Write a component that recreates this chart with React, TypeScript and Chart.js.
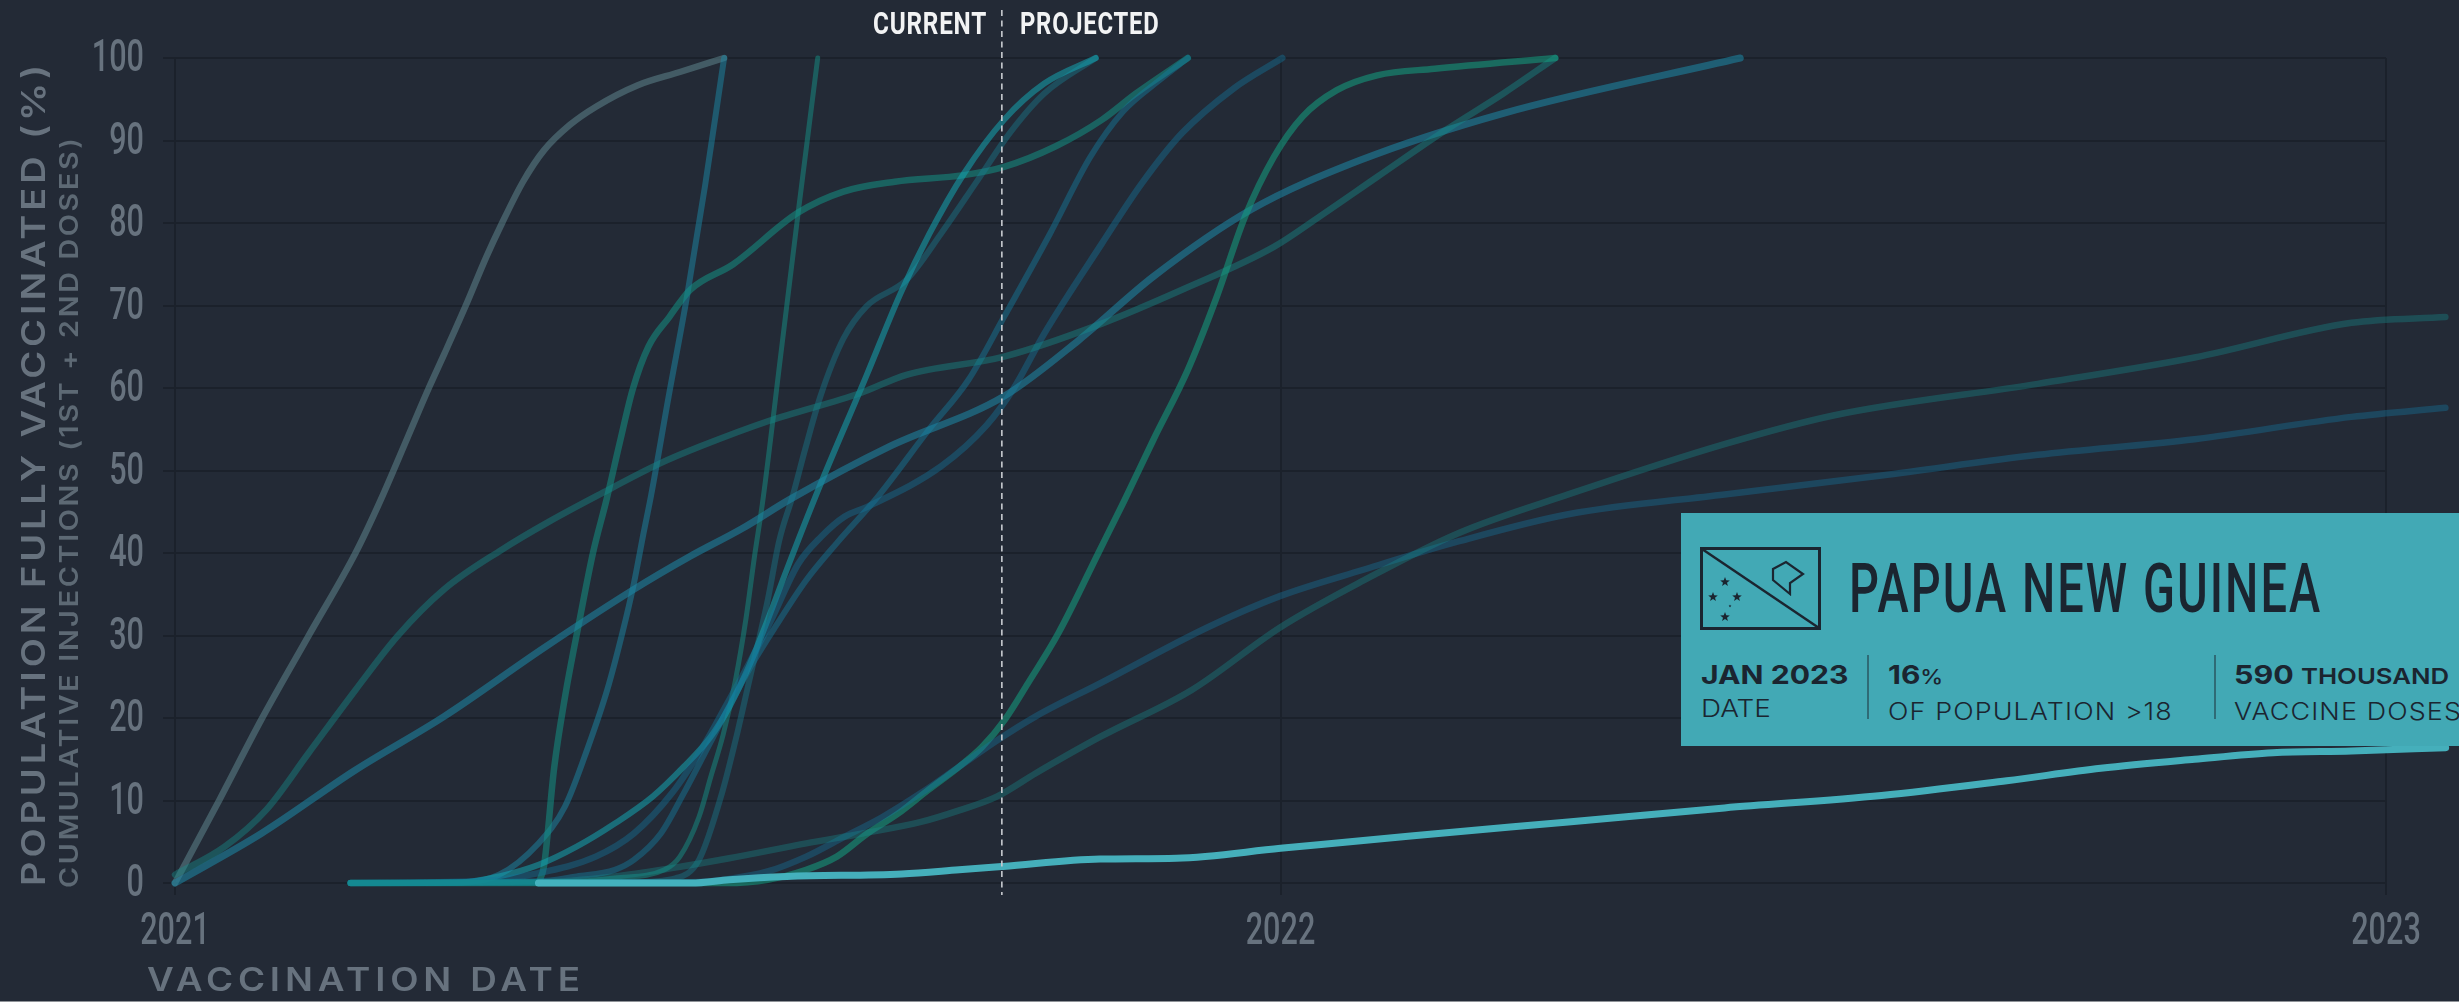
import React, { useEffect, useRef } from "react";
import { Chart, registerables } from "chart.js";

Chart.register(...registerables);

// Each row: [days since 1 Jan 2021, % of population]
const greyFast = [[0,0],[14.7,10.1],[28.5,19.8],[44,29.9],[59.6,40],[68,46.5],[76.9,54.1],[83.8,60],[89,64.2],[95.9,69.9],[102.8,75.9],[108,80],[114.9,85],[121.8,88.8],[130.4,91.9],[139,94.1],[152.8,96.7],[166.7,98.3],[181.3,100]];
const blueSteep = [[58,0],[95,0.1],[107,1],[120,4.8],[128.8,9.3],[136.4,16.5],[142.7,23.4],[147.7,30.3],[151.5,36.3],[154.7,42.4],[157.2,47],[163,59],[169,71],[175,84.5],[181.3,100]];
const tealPlateau = [[120,0],[121.8,2],[125.2,14],[128.6,22.2],[133.8,32.3],[138,40],[142.5,46.5],[146.8,53.3],[151.1,59.8],[156.3,65],[163.2,68.6],[170.1,71.9],[184.3,75],[205.5,81.2],[220.7,83.8],[237.7,85],[260.5,85.8],[273.7,86.8],[290.8,89.3],[306,92.5],[317.3,95.7],[334.4,100]];
const tealThin = [[58,0],[132.6,0.2],[145.2,0.6],[161.6,1.6],[166.7,3.2],[173,8],[177,13],[181,18],[185,24.5],[188.5,32],[191.3,39.5],[194.1,46.4],[200,64],[206,82],[212.2,100]];
const dimBump = [[58,0],[150,0.1],[165.4,0.6],[173,2.8],[180.6,10.9],[185.6,18.1],[189.4,24.2],[195.7,34.3],[199.5,41.5],[204,47],[208,52.5],[213.1,59],[220.7,66],[228.3,69.9],[241.5,73.1],[252.9,78.7],[264.3,84.8],[275.6,90.9],[287,95.7],[304,100]];
const brightMain = [[58,0],[95,0.1],[107,0.8],[120,2.2],[132.6,4.4],[145.2,7.2],[157.8,10.5],[168,14.1],[176.8,17.7],[183.1,21.4],[189.4,26.2],[195.7,31.9],[202,38],[212.2,47.5],[228.3,61.5],[239.6,71.5],[249.1,78.7],[260.5,86],[273.7,92.5],[287,96.9],[304,100]];
const blueLineA = [[58,0],[120,0.2],[132.6,0.8],[145.2,1.6],[151.5,2.8],[160.4,6],[168,10.9],[174.3,15.3],[181.8,20.6],[189.4,25.8],[198.3,31.1],[208.4,36.7],[218.5,41.2],[232,46.8],[249,55],[262,61],[273.7,68.6],[288.9,78.7],[302.2,88],[313,93.5],[325,97.3],[334.4,100]];
const blueLineB = [[58,0],[100,0.2],[120,1.2],[138.9,3.2],[151.5,6],[164.1,10.9],[174.3,16.5],[181.8,21.4],[189.4,26.5],[197,32],[205.8,38.7],[213.4,42],[221,44.4],[228.6,45.6],[252.9,50.5],[268,55.5],[277,60],[287,66.6],[306,77.5],[319.2,84.8],[332.5,90.9],[349.5,96.3],[365.6,100]];
const blueLong = [[0,0],[28.5,6],[59.6,13.7],[88.9,20.2],[121.8,28.5],[151.1,35.5],[170.1,39.6],[187.4,43],[203,46.5],[235.8,52.9],[273.7,59],[298.4,65.8],[323,73.5],[355.2,81.6],[391.2,87.6],[438.6,93.3],[516.8,100]];
const tealLong = [[0,1],[16.4,4.4],[30.2,8.9],[44,15.7],[59.6,23.4],[73.4,29.9],[88.9,35.6],[107.9,40.4],[123.5,43.8],[140.7,47.2],[159.8,50.8],[173.3,52.9],[196,56],[226.4,59.4],[241.5,61.6],[273.7,63.8],[306,67.8],[332.5,71.9],[362.8,77.1],[378,80.8],[397,85.6],[419.7,91.3],[438.6,95.7],[455.7,100]];
const greenLate = [[58,0],[181.8,0],[195.7,0.4],[208.4,1.6],[218.5,3.2],[228.6,6],[238.7,8.4],[248.8,11.3],[258.9,14.1],[266.5,16.5],[274,19.8],[281.6,24.2],[291.7,30.3],[305.4,40.4],[313.5,46.4],[323,53.7],[334.4,62.2],[343.9,71],[353.3,80.8],[362.8,88],[372.3,92.9],[383.6,96.1],[396.9,97.9],[415.9,98.7],[455.7,100]];
const dimBlueSlow = [[58,0],[170,0.1],[183,0.5],[195.7,1.4],[208.4,3.2],[221,5.6],[233.6,8],[246.3,10.9],[258.9,14.1],[271.5,17.3],[284.2,20.2],[305.4,24.2],[341,31],[365,34.8],[392.6,38],[423.7,41.4],[460,44.7],[511.6,47.1],[563.4,49.4],[615,51.9],[666.8,53.8],[718.6,56.5],[749.6,57.6]];
const dimTealSlow = [[58,0],[120,0.1],[145.2,0.8],[164,1.8],[183,3],[208.4,4.8],[227,6],[246.3,7.4],[258.9,8.8],[271.5,10.5],[284.2,13.3],[305.4,17.7],[335.7,23.4],[365,31],[392.6,36.7],[423.7,42.4],[460,47.1],[511.6,53.2],[547.9,56.7],[615,60.5],[666.8,63.7],[718.6,67.9],[749.6,68.6]];
const papuaNewGuinea = [[120,0],[170.5,0],[183,0.4],[202,0.8],[240,1.1],[258.9,1.6],[273.4,2],[305.4,2.9],[330.6,3],[365,4.2],[408,5.7],[460,7.4],[511.6,9.1],[563.4,10.6],[604.8,12.4],[635.8,13.9],[666.8,15],[692.7,15.8],[718.6,16],[749.7,16.4]];

const yTicks = [0, 10, 20, 30, 40, 50, 60, 70, 80, 90, 100];
const xTicks = [0, 365, 730];
const xTickLabels = ["2021", "2022", "2023"];
const currentDay = 273;

const BG = "#232a36";
const GRID = "#1b212b";
const MUTED = "#67727e";
const TALL = 'Roboto, "Liberation Sans", sans-serif';
const WIDE = 'Inter, "Noto Sans", sans-serif';
const INK = "#1b2530";
const TICK_CONDENSE = 0.68;

const styled = [
  { label: "Grey", data: greyFast, color: "rgba(105,150,158,0.46)", width: 6.5 },
  { label: "Blue steep", data: blueSteep, color: "rgba(28,135,165,0.5)", width: 6 },
  { label: "Teal plateau", data: tealPlateau, color: "rgba(20,150,137,0.52)", width: 6.5 },
  { label: "Teal thin", data: tealThin, color: "rgba(20,150,137,0.48)", width: 5 },
  { label: "Dim bump", data: dimBump, color: "rgba(22,130,150,0.4)", width: 6 },
  { label: "Bright", data: brightMain, color: "rgba(20,170,185,0.52)", width: 6 },
  { label: "Blue A", data: blueLineA, color: "rgba(20,125,160,0.45)", width: 6 },
  { label: "Blue B", data: blueLineB, color: "rgba(20,117,155,0.42)", width: 6.5 },
  { label: "Blue long", data: blueLong, color: "rgba(28,135,165,0.56)", width: 7 },
  { label: "Teal long", data: tealLong, color: "rgba(22,142,140,0.42)", width: 6.5 },
  { label: "Green late", data: greenLate, color: "rgba(20,160,130,0.55)", width: 6.5 },
  { label: "Dim blue", data: dimBlueSlow, color: "rgba(20,117,160,0.38)", width: 6.5 },
  { label: "Dim teal", data: dimTealSlow, color: "rgba(22,142,140,0.36)", width: 6.5 },
  { label: "Papua New Guinea", data: papuaNewGuinea, color: "rgba(70,180,192,0.97)", width: 7 },
];

const currentLine = {
  id: "currentLine",
  beforeDraw(chart: any) {
    // The reference's tick face is tall and condensed: squeeze the library's own tick text.
    const ctx = chart.ctx;
    if (ctx.__condensed) return;
    ctx.__condensed = true;
    const original = ctx.fillText;
    ctx.fillText = function (text: string, x: number, y: number) {
      ctx.save();
      ctx.translate(x, y + 2);
      ctx.scale(TICK_CONDENSE, 1);
      original.call(ctx, text, 0, 0);
      ctx.restore();
    };
  },
  afterDraw(chart: any) {
    const { ctx, scales } = chart;
    const x = scales.x.getPixelForValue(currentDay);
    ctx.save();
    ctx.strokeStyle = "#c9ccd1";
    ctx.lineWidth = 1.6;
    ctx.setLineDash([6, 4.5]);
    ctx.beginPath();
    ctx.moveTo(x, 10);
    ctx.lineTo(x, 895);
    ctx.stroke();
    ctx.restore();
  },
};

const abs = (left: number, top: number, extra: React.CSSProperties = {}, sx = 1): React.CSSProperties => ({
  position: "absolute",
  left,
  top,
  whiteSpace: "nowrap",
  lineHeight: 1,
  transformOrigin: "0 0",
  transform: `scaleX(${sx})`,
  ...extra,
});

function Flag() {
  const star = (cx: number, cy: number, r: number) => {
    const pts: string[] = [];
    for (let i = 0; i < 10; i++) {
      const a = -Math.PI / 2 + (i * Math.PI) / 5;
      const rad = i % 2 ? r * 0.42 : r;
      pts.push(`${cx + rad * Math.cos(a)},${cy + rad * Math.sin(a)}`);
    }
    return <polygon key={`${cx}-${cy}`} points={pts.join(" ")} fill={INK} />;
  };
  return (
    <svg width={121} height={83} style={{ position: "absolute", left: 1700, top: 547 }}>
      <rect x={1.5} y={1.5} width={118} height={80} fill="none" stroke={INK} strokeWidth={3} />
      <line x1={2} y1={2} x2={119} y2={81} stroke={INK} strokeWidth={2.5} />
      {star(25, 35, 5)}
      {star(13, 50, 5)}
      {star(37, 50, 5)}
      {star(30, 59, 1.5)}
      {star(25, 70, 5)}
      <path d="M73 22 L86 15 L103 27 L90 36 L90 47 L73 33 Z" fill="none" stroke={INK} strokeWidth={2.2} />
    </svg>
  );
}

export default function App() {
  const ref = useRef<HTMLCanvasElement>(null);
  useEffect(() => {
    if (!ref.current) return;
    const chart = new Chart(ref.current, {
      type: "line",
      data: {
        datasets: styled.map((s, i) => ({
          label: s.label,
          data: s.data.map(([x, y]) => ({ x, y })),
          borderColor: s.color,
          borderWidth: s.width,
          borderCapStyle: "round",
          borderJoinStyle: "round",
          cubicInterpolationMode: "monotone",
          pointRadius: 0,
          clip: false,
          fill: false,
          order: styled.length - i,
        })),
      },
      options: {
        responsive: false,
        animation: false,
        events: [],
        layout: { padding: { top: 58, right: 73, left: 0, bottom: 0 } },
        plugins: { legend: { display: false }, tooltip: { enabled: false }, title: { display: false } },
        scales: {
          x: {
            type: "linear",
            min: 0,
            max: 730,
            afterBuildTicks: (axis: any) => {
              axis.ticks = xTicks.map((value) => ({ value }));
            },
            afterFit: (axis: any) => {
              axis.height = 119;
            },
            ticks: {
              autoSkip: false,
              maxRotation: 0,
              color: MUTED,
              padding: 9,
              font: { family: TALL, size: 45, weight: "500" },
              callback: (v: any) => xTickLabels[xTicks.indexOf(v)],
            },
            grid: { color: GRID, lineWidth: 2, tickLength: 12, drawTicks: true },
            border: { display: false },
          },
          y: {
            type: "linear",
            min: 0,
            max: 100,
            afterBuildTicks: (axis: any) => {
              axis.ticks = yTicks.map((value) => ({ value }));
            },
            afterFit: (axis: any) => {
              axis.width = 175;
            },
            ticks: {
              autoSkip: false,
              color: MUTED,
              padding: 19,
              font: { family: TALL, size: 45, weight: "500" },
            },
            grid: { color: GRID, lineWidth: 2, tickLength: 12, drawTicks: true },
            border: { display: false },
          },
        },
      },
      plugins: [currentLine],
    } as any);
    return () => chart.destroy();
  }, []);

  const vertical = (left: number, bottom: number, extra: React.CSSProperties, sx: number): React.CSSProperties => ({
    position: "absolute",
    left,
    top: bottom,
    whiteSpace: "nowrap",
    lineHeight: 1,
    transformOrigin: "0 0",
    transform: `rotate(-90deg) scaleX(${sx})`,
    ...extra,
  });

  return (
    <div style={{ position: "fixed", left: 0, top: 0, width: 2459, height: 1002, background: BG, overflow: "hidden" }}>
      <canvas ref={ref} width={2459} height={1002} style={{ display: "block" }} />

      <div style={vertical(17, 886, { fontFamily: WIDE, fontWeight: 600, fontSize: 33, letterSpacing: 3.4, color: MUTED }, 1.15)}>
        POPULATION FULLY VACCINATED (%)
      </div>
      <div style={vertical(57, 888, { fontFamily: WIDE, fontWeight: 600, fontSize: 25, letterSpacing: 2.3, color: "#5d6974" }, 1.15)}>
        CUMULATIVE INJECTIONS (1ST + 2ND DOSES)
      </div>
      <div style={abs(147, 964, { fontFamily: WIDE, fontWeight: 600, fontSize: 32, letterSpacing: 4.2, color: MUTED }, 1.15)}>
        VACCINATION DATE
      </div>

      <div style={abs(873, 7, { fontFamily: TALL, fontWeight: 700, fontSize: 32, letterSpacing: 1, color: "#f2f3f4" }, 0.76)}>CURRENT</div>
      <div style={abs(1020, 7, { fontFamily: TALL, fontWeight: 700, fontSize: 32, letterSpacing: 1, color: "#f2f3f4" }, 0.745)}>PROJECTED</div>

      <div style={{ position: "absolute", left: 1681, top: 513, width: 778, height: 233, background: "#42a9b5" }} />
      <Flag />
      <div style={abs(1849, 555, { fontFamily: TALL, fontWeight: 500, fontSize: 68, letterSpacing: 3, color: INK }, 0.69)}>PAPUA NEW GUINEA</div>

      <div style={abs(1701, 662, { fontFamily: WIDE, fontWeight: 700, fontSize: 26, color: INK }, 1.16)}>JAN 2023</div>
      <div style={abs(1701, 697, { fontFamily: WIDE, fontWeight: 300, fontSize: 24, color: INK }, 1.16)}>DATE</div>
      <div style={{ position: "absolute", left: 1867, top: 655, width: 2, height: 64, background: "#2f6b76" }} />
      <div style={abs(1888, 662, { fontFamily: WIDE, fontWeight: 700, fontSize: 26, color: INK }, 1.15)}>
        16<span style={{ fontSize: 20, fontWeight: 500 }}>%</span>
      </div>
      <div style={abs(1888, 700, { fontFamily: WIDE, fontWeight: 300, fontSize: 24, letterSpacing: 1, color: INK }, 1.12)}>OF POPULATION &gt;18</div>
      <div style={{ position: "absolute", left: 2214, top: 655, width: 2, height: 64, background: "#2f6b76" }} />
      <div style={abs(2234, 662, { fontFamily: WIDE, fontWeight: 700, fontSize: 26, color: INK }, 1.17)}>
        590 <span style={{ fontSize: 22, fontWeight: 600 }}>THOUSAND</span>
      </div>
      <div style={abs(2234, 700, { fontFamily: WIDE, fontWeight: 300, fontSize: 24, letterSpacing: 1, color: INK }, 1.12)}>VACCINE DOSES</div>
      <div style={{ position: "absolute", left: 0, top: 1001, width: 2459, height: 1, background: "#8f9398" }} />
    </div>
  );
}
